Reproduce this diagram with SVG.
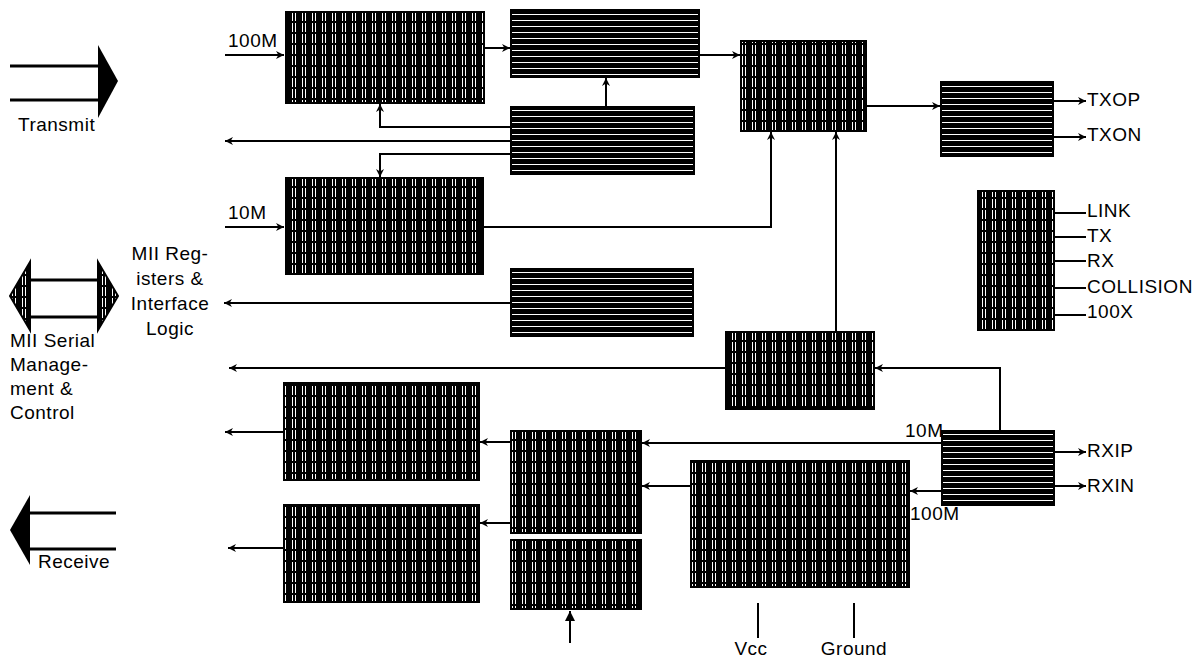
<svg xmlns="http://www.w3.org/2000/svg" width="1202" height="657" viewBox="0 0 1202 657">
<style>
text{font-family:"Liberation Sans",Arial,sans-serif;font-size:19px;letter-spacing:0.5px;fill:#000}
.v{fill:url(#vh);stroke:#000;stroke-width:2}
.h{fill:url(#hh);stroke:#000;stroke-width:2}
.c{fill:none;stroke:#000;stroke-width:2;marker-end:url(#ah)}
.p{fill:none;stroke:#000;stroke-width:2}
.bar{stroke:#000;stroke-width:3}
</style>
<defs>
<pattern id="vh" width="10" height="11" patternUnits="userSpaceOnUse">
<rect width="10" height="11" fill="#000"/>
<rect x="2" y="1" width="1" height="9" fill="#fff"/>
<rect x="5" y="1" width="1" height="9" fill="#fff"/>
</pattern>
<pattern id="hh" width="20" height="6" patternUnits="userSpaceOnUse">
<rect width="20" height="6" fill="#000"/>
<rect x="0" y="2" width="20" height="1" fill="#fff"/>
</pattern>
<marker id="ah" viewBox="0 0 10 10" refX="10" refY="5" markerWidth="11" markerHeight="8" markerUnits="userSpaceOnUse" orient="auto">
<path d="M0,0 L10,5 L0,10 L3,5 z" fill="#000"/>
</marker>
<marker id="ah2" viewBox="0 0 10 10" refX="10" refY="5" markerWidth="14" markerHeight="10" markerUnits="userSpaceOnUse" orient="auto">
<path d="M0,0 L10,5 L0,10 z" fill="#000"/>
</marker>
</defs>

<g id="transmit">
<line class="bar" x1="10" y1="66" x2="100" y2="66"/>
<line class="bar" x1="10" y1="100" x2="100" y2="100"/>
<polygon points="98,45 118,81 98,118" fill="#000"/>
<text x="18" y="131">Transmit</text>
</g>
<g id="mii-serial">
<line class="bar" x1="28" y1="280" x2="100" y2="280"/>
<line class="bar" x1="28" y1="317" x2="100" y2="317"/>
<polygon points="30,262 10,296 30,330" fill="url(#vh)" stroke="#000" stroke-width="2"/>
<polygon points="98,262 118,296 98,330" fill="url(#vh)" stroke="#000" stroke-width="2"/>
<text x="10" y="347">MII Serial</text>
<text x="10" y="371">Manage-</text>
<text x="10" y="395">ment &amp;</text>
<text x="10" y="419">Control</text>
</g>
<g id="mii-registers">
<text x="170" y="260" text-anchor="middle">MII Reg-</text>
<text x="170" y="285" text-anchor="middle">isters &amp;</text>
<text x="170" y="310" text-anchor="middle">Interface</text>
<text x="170" y="335" text-anchor="middle">Logic</text>
</g>
<g id="receive">
<line class="bar" x1="28" y1="513" x2="116" y2="513"/>
<line class="bar" x1="28" y1="549" x2="116" y2="549"/>
<polygon points="30,495 10,530 30,565" fill="#000"/>
<text x="38" y="568">Receive</text>
</g>

<g id="block-a"><rect class="v" x="286" y="12" width="198" height="91"/></g>
<g id="block-b"><rect class="h" x="511" y="10" width="188" height="67"/></g>
<g id="block-c"><rect class="h" x="511" y="107" width="183" height="67"/></g>
<g id="block-d"><rect class="v" x="286" y="178" width="197" height="96"/></g>
<g id="block-e"><rect class="h" x="511" y="269" width="182" height="67"/></g>
<g id="block-f"><rect class="v" x="726" y="332" width="148" height="77"/></g>
<g id="block-g"><rect class="v" x="741" y="41" width="125" height="90"/></g>
<g id="block-h"><rect class="h" x="941" y="82" width="112" height="74"/></g>
<g id="block-i"><rect class="v" x="978" y="191" width="76" height="139"/></g>
<g id="block-j"><rect class="v" x="284" y="383" width="195" height="97"/></g>
<g id="block-k"><rect class="v" x="284" y="505" width="195" height="97"/></g>
<g id="block-l"><rect class="v" x="511" y="431" width="130" height="102"/></g>
<g id="block-m"><rect class="v" x="511" y="540" width="130" height="69"/></g>
<g id="block-n"><rect class="v" x="691" y="461" width="218" height="126"/></g>
<g id="block-o"><rect class="h" x="942" y="431" width="112" height="74"/></g>

<g id="labels">
<text x="228" y="47">100M</text>
<text x="228" y="219">10M</text>
<text x="1087" y="106">TXOP</text>
<text x="1087" y="141">TXON</text>
<text x="1087" y="217">LINK</text>
<text x="1087" y="242">TX</text>
<text x="1087" y="267">RX</text>
<text x="1087" y="293">COLLISION</text>
<text x="1087" y="318">100X</text>
<text x="905" y="437">10M</text>
<text x="910" y="520">100M</text>
<text x="1087" y="457">RXIP</text>
<text x="1087" y="492">RXIN</text>
<text x="751" y="655" text-anchor="middle">Vcc</text>
<text x="854" y="655" text-anchor="middle">Ground</text>
</g>

<g id="connectors">
<path class="c" d="M225,55 H284"/>
<path class="c" d="M484,48 H510"/>
<path class="c" d="M699,55 H740"/>
<path class="c" d="M606,107 V78"/>
<path class="c" d="M511,127 H380 V104"/>
<path class="c" d="M511,141 H225"/>
<path class="c" d="M511,154 H380 V177"/>
<path class="c" d="M225,227 H284"/>
<path class="c" d="M483,227 H771 V132"/>
<path class="c" d="M836,332 V132"/>
<path class="c" d="M866,106 H940"/>
<path class="c" d="M1053,101 H1086"/>
<path class="c" d="M1053,137 H1086"/>
<path class="p" d="M1054,213 H1086"/>
<path class="p" d="M1054,237 H1086"/>
<path class="p" d="M1054,261 H1086"/>
<path class="p" d="M1054,288 H1086"/>
<path class="p" d="M1054,315 H1086"/>
<path class="c" d="M511,303 H224"/>
<path class="c" d="M726,368 H229"/>
<path class="c" d="M1000,431 V368 H875"/>
<path class="c" d="M942,443 H642"/>
<path class="c" d="M942,491 H910"/>
<path class="c" d="M691,486 H642"/>
<path class="c" d="M511,442 H480"/>
<path class="c" d="M511,523 H480"/>
<path class="c" d="M284,432 H225"/>
<path class="c" d="M284,548 H228"/>
<path class="c" d="M1054,452 H1086"/>
<path class="c" d="M1054,486 H1086"/>
<path d="M570,643 V611" fill="none" stroke="#000" stroke-width="2" marker-end="url(#ah2)"/>
<path class="p" d="M758,603 V638"/>
<path class="p" d="M854,603 V638"/>
</g>
</svg>
